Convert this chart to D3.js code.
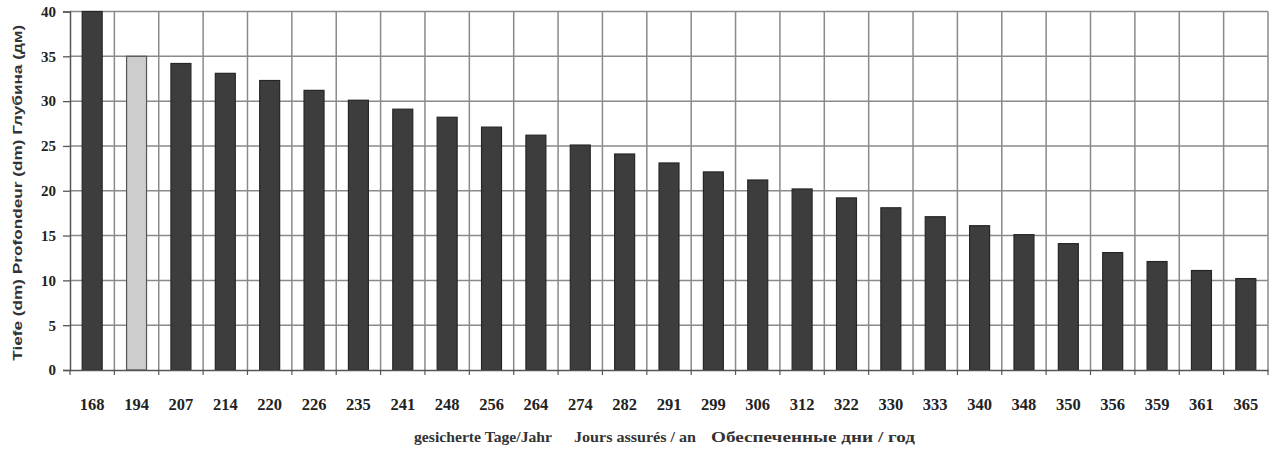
<!DOCTYPE html>
<html>
<head>
<meta charset="utf-8">
<script src="https://cdn.jsdelivr.net/npm/d3@7"></script>
<style>
  html, body { margin: 0; padding: 0; background: #ffffff; }
  svg { display: block; }
  .ylab text { font-family: "Liberation Serif", serif; font-weight: bold; font-size: 15px; fill: #222; }
  .xlab text { font-family: "Liberation Serif", serif; font-weight: bold; font-size: 16.5px; fill: #222; }
</style>
</head>
<body>
<svg id="chart" width="1273" height="459"></svg>
<script>
// Secured days per year and the corresponding depth (dm)
const days = ["168", "194", "207", "214", "220", "226", "235", "241", "248", "256",
              "264", "274", "282", "291", "299", "306", "312", "322", "330", "333",
              "340", "348", "350", "356", "359", "361", "365"];
const depth = [40, 35, 34.2, 33.1, 32.3, 31.2, 30.1, 29.1, 28.2, 27.1,
               26.2, 25.1, 24.1, 23.1, 22.1, 21.2, 20.2, 19.2, 18.1, 17.1,
               16.1, 15.1, 14.1, 13.1, 12.1, 11.1, 10.2];
// Highlighted category (drawn in light grey)
const highlight = ["194"];
const yTicks = [0, 5, 10, 15, 20, 25, 30, 35, 40];
const yTitle = "Tiefe (dm) Profondeur (dm) Глубина (дм)";
const xTitles = ["gesicherte Tage/Jahr", "Jours assurés / an", "Обеспеченные дни / год"];

const svg = d3.select("#chart");
const plotLeft = 70, plotRight = 1268, plotTop = 11.5, plotBottom = 370;

// Category grid (no padding) and bars (centred inside each cell)
const xCell = d3.scaleBand().domain(days).range([plotLeft, plotRight]).padding(0);
const xBar = d3.scaleBand().domain(days).range([plotLeft, plotRight])
  .paddingInner(0.55).paddingOuter(0.275);
const y = d3.scaleLinear().domain([0, 40]).range([plotBottom, plotTop]);

const grid = svg.append("g").attr("stroke", "#8a8a8a").attr("stroke-width", 1.5);

// horizontal gridlines
grid.selectAll("line.h").data(yTicks.filter(d => d > 0)).join("line")
  .attr("class", "h")
  .attr("x1", plotLeft).attr("x2", plotRight)
  .attr("y1", d => y(d)).attr("y2", d => y(d));

// vertical gridlines at category boundaries
const bounds = days.map(d => xCell(d)).concat([xCell(days[days.length - 1]) + xCell.bandwidth()]);
grid.selectAll("line.v").data(bounds.slice(1)).join("line")
  .attr("class", "v")
  .attr("x1", d => d).attr("x2", d => d)
  .attr("y1", y(40)).attr("y2", y(0));

// bars
svg.append("g").selectAll("rect").data(days).join("rect")
  .attr("x", d => xBar(d))
  .attr("width", xBar.bandwidth())
  .attr("y", (d, i) => y(depth[i]))
  .attr("height", (d, i) => y(0) - y(depth[i]))
  .attr("fill", d => highlight.includes(d) ? "#cdcdcd" : "#3d3d3d")
  .attr("stroke", d => highlight.includes(d) ? "#555" : "#262626")
  .attr("stroke-width", 1.2);

// small boundary ticks below the zero line
svg.append("g").attr("stroke", "#555").attr("stroke-width", 1.2)
  .selectAll("line").data(bounds).join("line")
  .attr("x1", d => d).attr("x2", d => d)
  .attr("y1", y(0)).attr("y2", y(0) + 5);

// y axis
const yAxis = svg.append("g").attr("class", "ylab")
  .attr("transform", `translate(${plotLeft},0)`)
  .call(d3.axisLeft(y).tickValues(yTicks).tickSize(7).tickPadding(7));
yAxis.select(".domain").attr("stroke", "#555").attr("stroke-width", 1.5);
yAxis.selectAll(".tick line").attr("stroke", "#555").attr("stroke-width", 1.3);

// x axis (category labels)
const xAxis = svg.append("g").attr("class", "xlab")
  .attr("transform", `translate(0,${plotBottom})`)
  .call(d3.axisBottom(xCell).tickSize(0).tickPadding(28));
xAxis.select(".domain").attr("stroke", "#555").attr("stroke-width", 1.5);

// y axis title
svg.append("text")
  .attr("transform", `translate(22,${(plotTop + plotBottom) / 2 + 2}) rotate(-90)`)
  .attr("text-anchor", "middle")
  .attr("font-family", "'Liberation Sans', sans-serif")
  .attr("font-weight", "bold")
  .attr("font-size", 13)
  .attr("fill", "#333")
  .attr("textLength", 336)
  .attr("lengthAdjust", "spacingAndGlyphs")
  .text(yTitle);

// x axis title (three languages)
const titleX = [414, 574, 711];
const titleW = [138, 122, 204];
svg.append("g").selectAll("text").data(xTitles).join("text")
  .attr("x", (d, i) => titleX[i])
  .attr("y", 442)
  .attr("font-family", "'Liberation Serif', 'DejaVu Serif', serif")
  .attr("font-weight", "bold")
  .attr("font-size", 15.5)
  .attr("fill", "#333")
  .attr("textLength", (d, i) => titleW[i])
  .attr("lengthAdjust", "spacingAndGlyphs")
  .text(d => d);
</script>
</body>
</html>
